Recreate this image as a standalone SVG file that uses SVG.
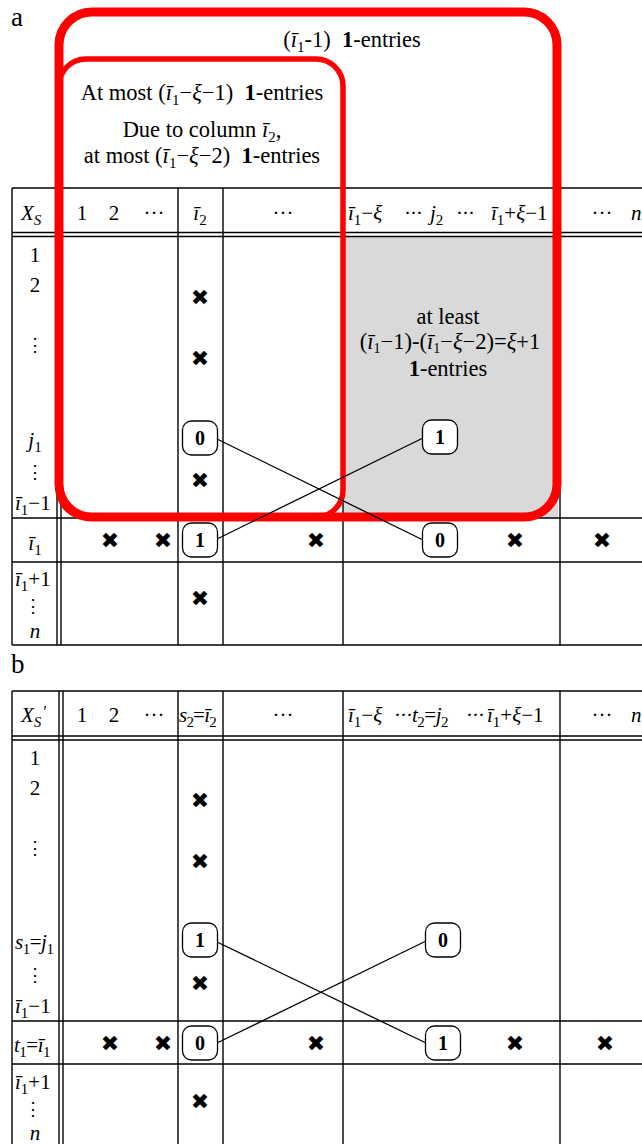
<svg xmlns="http://www.w3.org/2000/svg" width="642" height="1144" viewBox="0 0 642 1144">
<style>
text{font-family:"Liberation Serif","DejaVu Serif",serif;fill:#000;}
.t{font-size:21px;}
.a{font-size:22.5px;}
.it{font-style:italic;}
.b{font-weight:bold;}
.m{text-anchor:middle;}
.x{font-family:"DejaVu Sans",sans-serif;font-size:22px;font-weight:bold;text-anchor:middle;}
.g{stroke:#000;stroke-width:1.4;fill:none;}
.bx rect{fill:#fff;stroke:#000;stroke-width:1.3;}
.bx text{font-size:20px;font-weight:bold;text-anchor:middle;}
.conn line{stroke:#000;stroke-width:1.3;}
.red{fill:none;stroke:#ff0000;}
.lab{font-size:27px;}
.vd{font-family:"DejaVu Serif",serif;font-size:18px;text-anchor:middle;}
.dt{letter-spacing:-1px;}
</style>

<text class="lab" x="11" y="26">a</text>
<text class="lab" x="11" y="673">b</text>

<!-- Table a -->
<g id="table-a">
<rect x="343" y="237" width="215" height="281" fill="#d9d9d9"/>
<g class="g">
<line x1="12" y1="188" x2="642" y2="188"/>
<line x1="12" y1="232.5" x2="642" y2="232.5"/>
<line x1="12" y1="236.5" x2="642" y2="236.5"/>
<line x1="12" y1="518" x2="642" y2="518"/>
<line x1="12" y1="562" x2="642" y2="562"/>
<line x1="12" y1="645" x2="642" y2="645"/>
<line x1="12" y1="188" x2="12" y2="645"/>
<line x1="57" y1="188" x2="57" y2="645"/>
<line x1="61" y1="188" x2="61" y2="645"/>
<line x1="178" y1="188" x2="178" y2="645"/>
<line x1="223" y1="188" x2="223" y2="645"/>
<line x1="343" y1="188" x2="343" y2="645"/>
<line x1="560" y1="188" x2="560" y2="645"/>
</g>
<!-- header -->
<text class="t" x="21" y="220"><tspan class="it">X</tspan><tspan class="it" font-size="15" dy="5">S</tspan></text>
<text class="t m" x="82" y="220">1</text>
<text class="t m" x="114" y="220">2</text>
<text class="t m" x="154" y="220">···</text>
<text class="t m" x="200" y="220"><tspan class="it">ī</tspan><tspan font-size="15" dy="5">2</tspan></text>
<text class="t m" x="283" y="220">···</text>
<text class="t" x="348" y="220"><tspan class="it">ī</tspan><tspan font-size="15" dy="5">1</tspan><tspan dy="-5">−</tspan><tspan class="it">ξ</tspan></text>
<text class="t dt" x="404" y="220">···</text>
<text class="t" x="430" y="220"><tspan class="it">j</tspan><tspan font-size="15" dy="5">2</tspan></text>
<text class="t dt" x="456" y="220">···</text>
<text class="t" x="491" y="220"><tspan class="it">ī</tspan><tspan font-size="15" dy="5">1</tspan><tspan dy="-5">+</tspan><tspan class="it">ξ</tspan><tspan>−1</tspan></text>
<text class="t m" x="602" y="220">···</text>
<text class="t it" x="631" y="220">n</text>
<!-- row labels -->
<text class="t m" x="35" y="262">1</text>
<text class="t m" x="35" y="292">2</text>
<text class="vd" x="35" y="351">⋮</text>
<text class="t m" x="35" y="447"><tspan class="it">j</tspan><tspan font-size="15" dy="5">1</tspan></text>
<text class="vd" x="35" y="478">⋮</text>
<text class="t" x="15" y="510"><tspan class="it">ī</tspan><tspan font-size="15" dy="5">1</tspan><tspan dy="-5">−1</tspan></text>
<text class="t m" x="35" y="550"><tspan class="it">ī</tspan><tspan font-size="15" dy="5">1</tspan></text>
<text class="t" x="15" y="586"><tspan class="it">ī</tspan><tspan font-size="15" dy="5">1</tspan><tspan dy="-5">+1</tspan></text>
<text class="vd" x="33" y="612" font-size="13">⋮</text>
<text class="t it m" x="35" y="638">n</text>
<!-- x marks -->
<text class="x" x="200" y="305">✖</text>
<text class="x" x="200" y="366">✖</text>
<text class="x" x="200" y="488">✖</text>
<text class="x" x="200" y="606">✖</text>
<text class="x" x="110" y="548">✖</text>
<text class="x" x="163" y="548">✖</text>
<text class="x" x="316" y="548">✖</text>
<text class="x" x="515" y="548">✖</text>
<text class="x" x="602" y="548">✖</text>
<!-- grey text -->
<text class="a m" x="448" y="324">at least</text>
<text class="a m" x="450" y="349">(<tspan class="it">ī</tspan><tspan font-size="14" dy="4">1</tspan><tspan dy="-4">−1)-(</tspan><tspan class="it">ī</tspan><tspan font-size="14" dy="4">1</tspan><tspan dy="-4">−</tspan><tspan class="it">ξ</tspan><tspan>−2)=</tspan><tspan class="it">ξ</tspan><tspan>+1</tspan></text>
<text class="a m" x="448" y="376"><tspan class="b">1</tspan>-entries</text>
</g>

<!-- Red regions -->
<g id="regions">
<rect class="red" x="59" y="12" width="498" height="505" rx="33" stroke-width="9"/>
<rect class="red" x="59" y="59" width="284" height="458" rx="27" stroke-width="5.5"/>
<text class="a m" x="352" y="47" xml:space="preserve">(<tspan class="it">ī</tspan><tspan font-size="15" dy="5">1</tspan><tspan dy="-5">-1)  </tspan><tspan class="b">1</tspan><tspan>-entries</tspan></text>
<text class="a m" x="202" y="100" xml:space="preserve">At most (<tspan class="it">ī</tspan><tspan font-size="15" dy="5">1</tspan><tspan dy="-5">−</tspan><tspan class="it">ξ</tspan><tspan>−1)  </tspan><tspan class="b">1</tspan><tspan>-entries</tspan></text>
<text class="a m" x="202" y="137">Due to column <tspan class="it">ī</tspan><tspan font-size="15" dy="5">2</tspan><tspan dy="-5">,</tspan></text>
<text class="a m" x="202" y="163" xml:space="preserve">at most (<tspan class="it">ī</tspan><tspan font-size="15" dy="5">1</tspan><tspan dy="-5">−</tspan><tspan class="it">ξ</tspan><tspan>−2)  </tspan><tspan class="b">1</tspan><tspan>-entries</tspan></text>
</g>

<!-- Table b -->
<g id="table-b">
<g class="g">
<line x1="12" y1="691" x2="642" y2="691"/>
<line x1="12" y1="736" x2="642" y2="736"/>
<line x1="12" y1="740" x2="642" y2="740"/>
<line x1="12" y1="1021" x2="642" y2="1021"/>
<line x1="12" y1="1064" x2="642" y2="1064"/>
<line x1="12" y1="691" x2="12" y2="1144"/>
<line x1="59" y1="691" x2="59" y2="1144"/>
<line x1="63" y1="691" x2="63" y2="1144"/>
<line x1="178" y1="691" x2="178" y2="1144"/>
<line x1="223" y1="691" x2="223" y2="1144"/>
<line x1="343" y1="691" x2="343" y2="1144"/>
<line x1="560" y1="691" x2="560" y2="1144"/>
</g>
<text class="t" x="21" y="722"><tspan class="it">X</tspan><tspan class="it" font-size="15" dy="5">S</tspan><tspan dx="2" dy="-10" font-size="17">′</tspan></text>
<text class="t m" x="82" y="722">1</text>
<text class="t m" x="114" y="722">2</text>
<text class="t m" x="154" y="722">···</text>
<text class="t" x="179" y="722" letter-spacing="-0.8"><tspan class="it">s</tspan><tspan font-size="15" dy="5">2</tspan><tspan dy="-5">=</tspan><tspan class="it">ī</tspan><tspan font-size="15" dy="5">2</tspan></text>
<text class="t m" x="283" y="722">···</text>
<text class="t" x="348" y="722"><tspan class="it">ī</tspan><tspan font-size="15" dy="5">1</tspan><tspan dy="-5">−</tspan><tspan class="it">ξ</tspan></text>
<text class="t dt" x="394" y="722">···</text>
<text class="t" x="412" y="722" letter-spacing="-0.5"><tspan class="it">t</tspan><tspan font-size="15" dy="5">2</tspan><tspan dy="-5">=</tspan><tspan class="it">j</tspan><tspan font-size="15" dy="5">2</tspan></text>
<text class="t dt" x="466" y="722">···</text>
<text class="t" x="487" y="722"><tspan class="it">ī</tspan><tspan font-size="15" dy="5">1</tspan><tspan dy="-5">+</tspan><tspan class="it">ξ</tspan><tspan>−1</tspan></text>
<text class="t m" x="602" y="722">···</text>
<text class="t it" x="631" y="722">n</text>
<text class="t m" x="35" y="765">1</text>
<text class="t m" x="35" y="795">2</text>
<text class="vd" x="35" y="854">⋮</text>
<text class="t" x="15" y="949" letter-spacing="-0.5"><tspan class="it">s</tspan><tspan font-size="15" dy="5">1</tspan><tspan dy="-5">=</tspan><tspan class="it">j</tspan><tspan font-size="15" dy="5">1</tspan></text>
<text class="vd" x="35" y="981">⋮</text>
<text class="t" x="15" y="1013"><tspan class="it">ī</tspan><tspan font-size="15" dy="5">1</tspan><tspan dy="-5">−1</tspan></text>
<text class="t" x="14" y="1052" letter-spacing="-0.5"><tspan class="it">t</tspan><tspan font-size="15" dy="5">1</tspan><tspan dy="-5">=</tspan><tspan class="it">ī</tspan><tspan font-size="15" dy="5">1</tspan></text>
<text class="t" x="15" y="1089"><tspan class="it">ī</tspan><tspan font-size="15" dy="5">1</tspan><tspan dy="-5">+1</tspan></text>
<text class="vd" x="33" y="1115" font-size="13">⋮</text>
<text class="t it m" x="35" y="1140">n</text>
<text class="x" x="200" y="808">✖</text>
<text class="x" x="200" y="869">✖</text>
<text class="x" x="200" y="991">✖</text>
<text class="x" x="200" y="1109">✖</text>
<text class="x" x="110" y="1051">✖</text>
<text class="x" x="163" y="1051">✖</text>
<text class="x" x="316" y="1051">✖</text>
<text class="x" x="515" y="1051">✖</text>
<text class="x" x="605" y="1051">✖</text>
</g>

<!-- Connectors -->
<g id="connectors" class="conn">
<line x1="217" y1="439" x2="423" y2="540"/>
<line x1="217" y1="539" x2="423" y2="438"/>
<line x1="217" y1="942" x2="426" y2="1043"/>
<line x1="217" y1="1043" x2="426" y2="941"/>
</g>

<!-- Nodes -->
<g id="a-i2-j1" class="bx"><rect x="182.5" y="421" width="35" height="34" rx="9"/><text x="200" y="445">0</text></g>
<g id="a-i2-i1" class="bx"><rect x="182.5" y="523" width="35" height="34" rx="9"/><text x="200" y="547">1</text></g>
<g id="a-j2-j1" class="bx"><rect x="422.5" y="420" width="35" height="34" rx="9"/><text x="440" y="444">1</text></g>
<g id="a-j2-i1" class="bx"><rect x="422.5" y="523" width="35" height="34" rx="9"/><text x="440" y="547">0</text></g>
<g id="b-i2-j1" class="bx"><rect x="182.5" y="923" width="35" height="34" rx="9"/><text x="200" y="947">1</text></g>
<g id="b-i2-i1" class="bx"><rect x="182.5" y="1026" width="35" height="34" rx="9"/><text x="200" y="1050">0</text></g>
<g id="b-j2-j1" class="bx"><rect x="425.5" y="923" width="35" height="34" rx="9"/><text x="443" y="947">0</text></g>
<g id="b-j2-i1" class="bx"><rect x="425.5" y="1026" width="35" height="34" rx="9"/><text x="443" y="1050">1</text></g>
</svg>
